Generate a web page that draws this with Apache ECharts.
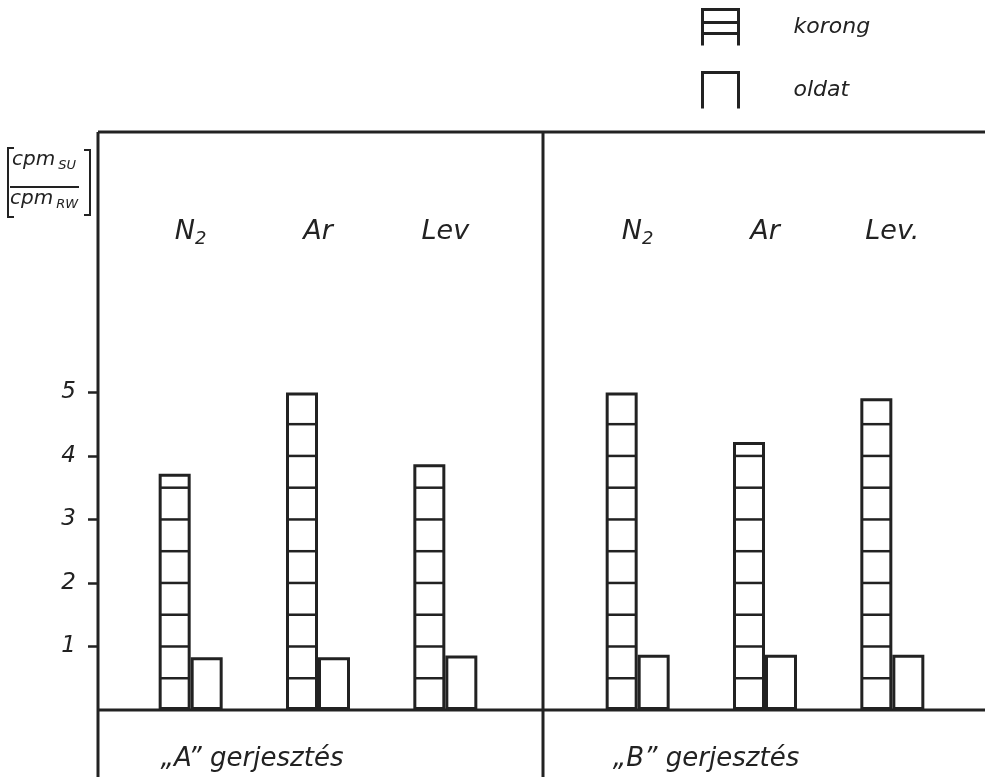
<!DOCTYPE html>
<html>
<head>
<meta charset="utf-8">
<script src="https://cdn.jsdelivr.net/npm/echarts@6/dist/echarts.min.js"></script>
<style>
html,body{margin:0;padding:0;background:#fff;}
#chart{width:985px;height:777px;}
</style>
</head>
<body>
<div id="chart"></div>
<script>
// ---- data ----
const categoriesA = ['N2', 'Ar', 'Lev'];
const categoriesB = ['N2', 'Ar', 'Lev.'];
const korongA = [3.72, 5.0, 3.87];
const oldatA  = [0.83, 0.83, 0.86];
const korongB = [5.0, 4.22, 4.91];
const oldatB  = [0.87, 0.87, 0.87];
const yTickValues = [1, 2, 3, 4, 5];
const panelNames = ['\u201EA\u201D gerjeszt\u00E9s', '\u201EB\u201D gerjeszt\u00E9s'];
const seriesNames = ['korong', 'oldat'];

// ---- style constants ----
const INK = '#222';
const FONT = 'DejaVu Sans';
const BAR_W = 32;
const HATCH_STEP = 0.5;
const Y_MAX = 9.1;

function catLabel(v) {
  if (v === 'N2') return 'N{sub|2}';
  return v;
}

function hatchItem(params, api) {
  const v = api.value(1);
  const base = api.coord([api.value(0), 0]);
  const children = [];
  for (let k = HATCH_STEP; k < v - 0.08; k += HATCH_STEP) {
    const y = api.coord([api.value(0), k])[1];
    children.push({
      type: 'line',
      shape: { x1: base[0] - BAR_W + 1, y1: y, x2: base[0] - 1, y2: y },
      style: { stroke: INK, lineWidth: 2.5 }
    });
  }
  return { type: 'group', children };
}

const chart = echarts.init(document.getElementById('chart'), null, { renderer: 'canvas' });

function xAxesFor(gridIndex, cats, name, namePadRight) {
  return [
    {
      type: 'category', gridIndex, data: cats, position: 'bottom',
      axisLine: { show: false }, axisTick: { show: false }, axisLabel: { show: false },
      name, nameLocation: 'middle', nameGap: 36,
      nameTextStyle: { fontFamily: FONT, fontStyle: 'italic', fontSize: 26, color: INK, align: 'center', padding: [0, namePadRight, 0, 0] }
    },
    {
      type: 'category', gridIndex, data: cats, position: 'top', offset: -100,
      axisLine: { show: false }, axisTick: { show: false },
      axisLabel: {
        interval: 0, margin: 0, verticalAlign: 'middle', formatter: catLabel,
        fontFamily: FONT, fontStyle: 'italic', fontSize: 27, color: INK,
        rich: { sub: { fontFamily: FONT, fontStyle: 'italic', fontSize: 18, color: INK, padding: [15, 0, 0, 0] } }
      }
    }
  ];
}

const blackBox = { color: '#fff', borderColor: INK, borderWidth: 3 };

function barSeries(name, data, axisIdx) {
  return {
    name, type: 'bar', data, xAxisIndex: axisIdx, yAxisIndex: axisIdx / 2,
    barWidth: BAR_W, barGap: '0%', itemStyle: blackBox, animation: false, z: 2
  };
}

const subStyle = { fontFamily: FONT, fontStyle: 'italic', fontSize: 13, fill: INK, padding: [11, 0, 0, 3] };
const cpmStyle = { fontFamily: FONT, fontStyle: 'italic', fontSize: 20, fill: INK };

const option = {
  backgroundColor: '#fff',
  animation: false,
  grid: [
    { left: 127, width: 382, top: 132, bottom: 67 },
    { left: 574, width: 382, top: 132, bottom: 67 }
  ],
  xAxis: [].concat(xAxesFor(0, categoriesA, panelNames[0], 132), xAxesFor(1, categoriesB, panelNames[1], 118)),
  yAxis: [
    {
      type: 'value', gridIndex: 0, min: 0, max: Y_MAX, offset: 29,
      axisLine: { show: false }, splitLine: { show: false },
      axisTick: { show: true, customValues: yTickValues, length: 10, lineStyle: { color: INK, width: 2.5 } },
      axisLabel: { customValues: yTickValues, margin: 22, fontFamily: FONT, fontStyle: 'italic', fontSize: 23, color: INK }
    },
    { type: 'value', gridIndex: 1, min: 0, max: Y_MAX, show: false }
  ],
  legend: {
    orient: 'vertical', left: 701, top: 8, padding: 0, itemWidth: 36, itemHeight: 36, itemGap: 24,
    selectedMode: false,
    itemStyle: { color: '#fff', borderColor: INK, borderWidth: 3 },
    textStyle: { fontFamily: FONT, fontStyle: 'italic', fontSize: 22, color: INK, padding: [0, 0, 0, 50] },
    data: [
      { name: seriesNames[0], icon: 'path://M0,36L0,0L36,0L36,36M0,13L36,13M0,24L36,24' },
      { name: seriesNames[1], icon: 'path://M0,36L0,0L36,0L36,36' }
    ]
  },
  series: [
    barSeries(seriesNames[0], korongA, 0),
    barSeries(seriesNames[1], oldatA, 0),
    barSeries(seriesNames[0], korongB, 2),
    barSeries(seriesNames[1], oldatB, 2),
    { type: 'custom', xAxisIndex: 0, yAxisIndex: 0, renderItem: hatchItem, z: 3, silent: true,
      data: korongA.map((v, i) => [i, v]), encode: { x: 0, y: 1 } },
    { type: 'custom', xAxisIndex: 2, yAxisIndex: 1, renderItem: hatchItem, z: 3, silent: true,
      data: korongB.map((v, i) => [i, v]), encode: { x: 0, y: 1 } }
  ],
  graphic: [
    // frame
    { type: 'line', shape: { x1: 98, y1: 132, x2: 985, y2: 132 }, style: { stroke: INK, lineWidth: 3 } },
    { type: 'line', shape: { x1: 98, y1: 132, x2: 98, y2: 777 }, style: { stroke: INK, lineWidth: 3 } },
    { type: 'line', shape: { x1: 543, y1: 132, x2: 543, y2: 777 }, style: { stroke: INK, lineWidth: 3 } },
    { type: 'line', shape: { x1: 98, y1: 710, x2: 985, y2: 710 }, style: { stroke: INK, lineWidth: 3 } },
    // y unit label
    { type: 'polyline', shape: { points: [[14, 148], [8, 148], [8, 217], [14, 217]] }, style: { stroke: INK, lineWidth: 2, fill: null } },
    { type: 'polyline', shape: { points: [[84, 150], [90, 150], [90, 215], [84, 215]] }, style: { stroke: INK, lineWidth: 2, fill: null } },
    { type: 'line', shape: { x1: 10, y1: 187, x2: 79, y2: 187 }, style: { stroke: INK, lineWidth: 2 } },
    { type: 'text', left: 12, top: 150, style: { text: '{a|cpm}{s|SU}', rich: { a: cpmStyle, s: subStyle } } },
    { type: 'text', left: 10, top: 189, style: { text: '{a|cpm}{s|RW}', rich: { a: cpmStyle, s: subStyle } } }
  ]
};
chart.setOption(option);
</script>
</body>
</html>
